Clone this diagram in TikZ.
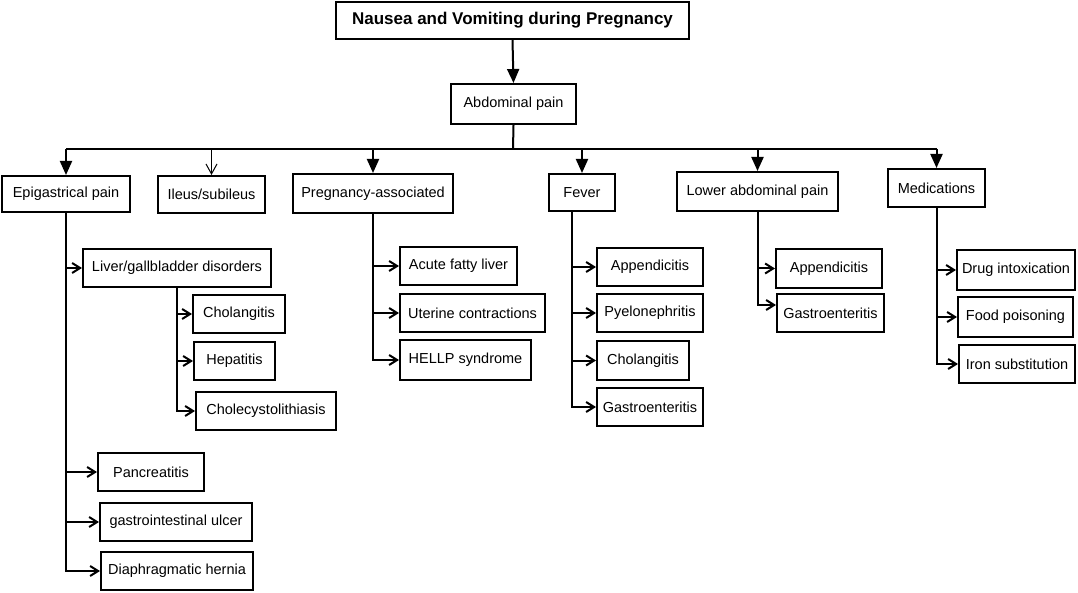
\documentclass[tikz,border=0pt]{standalone}
\usepackage{fontspec}
\setmainfont{Liberation Sans}
\usetikzlibrary{arrows.meta}

\begin{document}
\begin{tikzpicture}[x=1pt,y=-1pt,
        box/.style={draw, line width=2pt, rectangle, inner sep=0pt, font=\fontsize{14.5}{17}\selectfont},
        titlebox/.style={box, font=\fontsize{17}{19}\selectfont\bfseries},
        link/.style={line width=2pt},
        down/.style={link, -{Triangle[width=12pt,length=14pt]}},
        thindown/.style={line width=1pt, -{Straight Barb[width=11pt,length=10pt]}},
        branch/.style={link, -{Straight Barb[width=10pt,length=8pt]}}]
        \useasboundingbox (0,0) rectangle (1078,593);

        % Draw the top of the tree
        \node[titlebox, minimum width=353, minimum height=37] (title) at (512.5,20.5) {Nausea and Vomiting during Pregnancy};
        \node[box, minimum width=125, minimum height=40] (abd) at (513.5,104) {Abdominal pain};
        \draw[down] (title.south) -- (abd.north);

        % Draw the first level
        \node[box, minimum width=128, minimum height=36] (epi) at (66,194) {Epigastrical pain};
        \node[box, minimum width=107, minimum height=37] (ileus) at (211.5,194.5) {Ileus/subileus};
        \node[box, minimum width=160, minimum height=39] (preg) at (373,193.5) {Pregnancy-associated};
        \node[box, minimum width=66, minimum height=37] (fever) at (582,192.5) {Fever};
        \node[box, minimum width=161, minimum height=39] (lower) at (757.5,191.5) {Lower abdominal pain};
        \node[box, minimum width=97, minimum height=38] (med) at (936.5,188) {Medications};

        \coordinate (bus) at (513,149);
        \draw[link] (abd.south) -- (bus);
        \draw[link] (epi.north |- bus) -- (med.north |- bus);
        \foreach \n in {epi,preg,fever,lower,med}
            \draw[down] (\n.north |- bus) -- (\n.north);
        \draw[thindown] (ileus.north |- bus) -- (ileus.north);

        % Draw the epigastrical pain branch
        \node[box, minimum width=188, minimum height=38] (liver) at (177,268) {Liver/gallbladder disorders};
        \node[box, minimum width=92, minimum height=38] (cholang) at (239,314) {Cholangitis};
        \node[box, minimum width=81, minimum height=38] (hepat) at (234.5,361) {Hepatitis};
        \node[box, minimum width=140, minimum height=38] (cholec) at (266,411) {Cholecystolithiasis};
        \node[box, minimum width=106, minimum height=38] (pancr) at (151,472) {Pancreatitis};
        \node[box, minimum width=152, minimum height=38] (ulcer) at (176,522) {gastrointestinal ulcer};
        \node[box, minimum width=152, minimum height=38] (hernia) at (177,571) {Diaphragmatic hernia};
        \foreach \n in {liver,pancr,ulcer,hernia}
            \draw[branch] (epi.south) |- (\n.west);
        \foreach \n in {cholang,hepat,cholec}
            \draw[branch] (liver.south) |- (\n.west);

        % Draw the pregnancy-associated branch
        \node[box, minimum width=117, minimum height=38] (fatty) at (458.5,266) {Acute fatty liver};
        \node[box, minimum width=145, minimum height=38] (uterine) at (472.5,313) {Uterine contractions};
        \node[box, minimum width=131, minimum height=40] (hellp) at (465.5,360) {HELLP syndrome};
        \foreach \n in {fatty,uterine,hellp}
            \draw[branch] (preg.south) |- (\n.west);

        % Draw the fever branch
        \node[box, minimum width=106, minimum height=38] (appF) at (650,267) {Appendicitis};
        \node[box, minimum width=106, minimum height=38] (pyelo) at (650,313) {Pyelonephritis};
        \node[box, minimum width=92, minimum height=39] (cholangF) at (643,360.5) {Cholangitis};
        \node[box, minimum width=106, minimum height=38] (gastroF) at (650,407) {Gastroenteritis};
        \foreach \n in {appF,pyelo,cholangF,gastroF}
            \draw[branch] ([xshift=-10pt]fever.south) |- (\n.west);

        % Draw the lower abdominal pain branch
        \node[box, minimum width=106, minimum height=39] (appL) at (829,268.5) {Appendicitis};
        \node[box, minimum width=107, minimum height=38] (gastroL) at (830.5,313) {Gastroenteritis};
        \draw[branch] (lower.south) |- (appL.west);
        \draw[branch] (lower.south) |- ([yshift=8pt]gastroL.west);

        % Draw the medications branch
        \node[box, minimum width=118, minimum height=40] (drug) at (1016,270) {Drug intoxication};
        \node[box, minimum width=115, minimum height=40] (food) at (1015.5,317) {Food poisoning};
        \node[box, minimum width=116, minimum height=38] (iron) at (1017,364) {Iron substitution};
        \foreach \n in {drug,food,iron}
            \draw[branch] (med.south) |- (\n.west);
    \end{tikzpicture}
\end{document}
